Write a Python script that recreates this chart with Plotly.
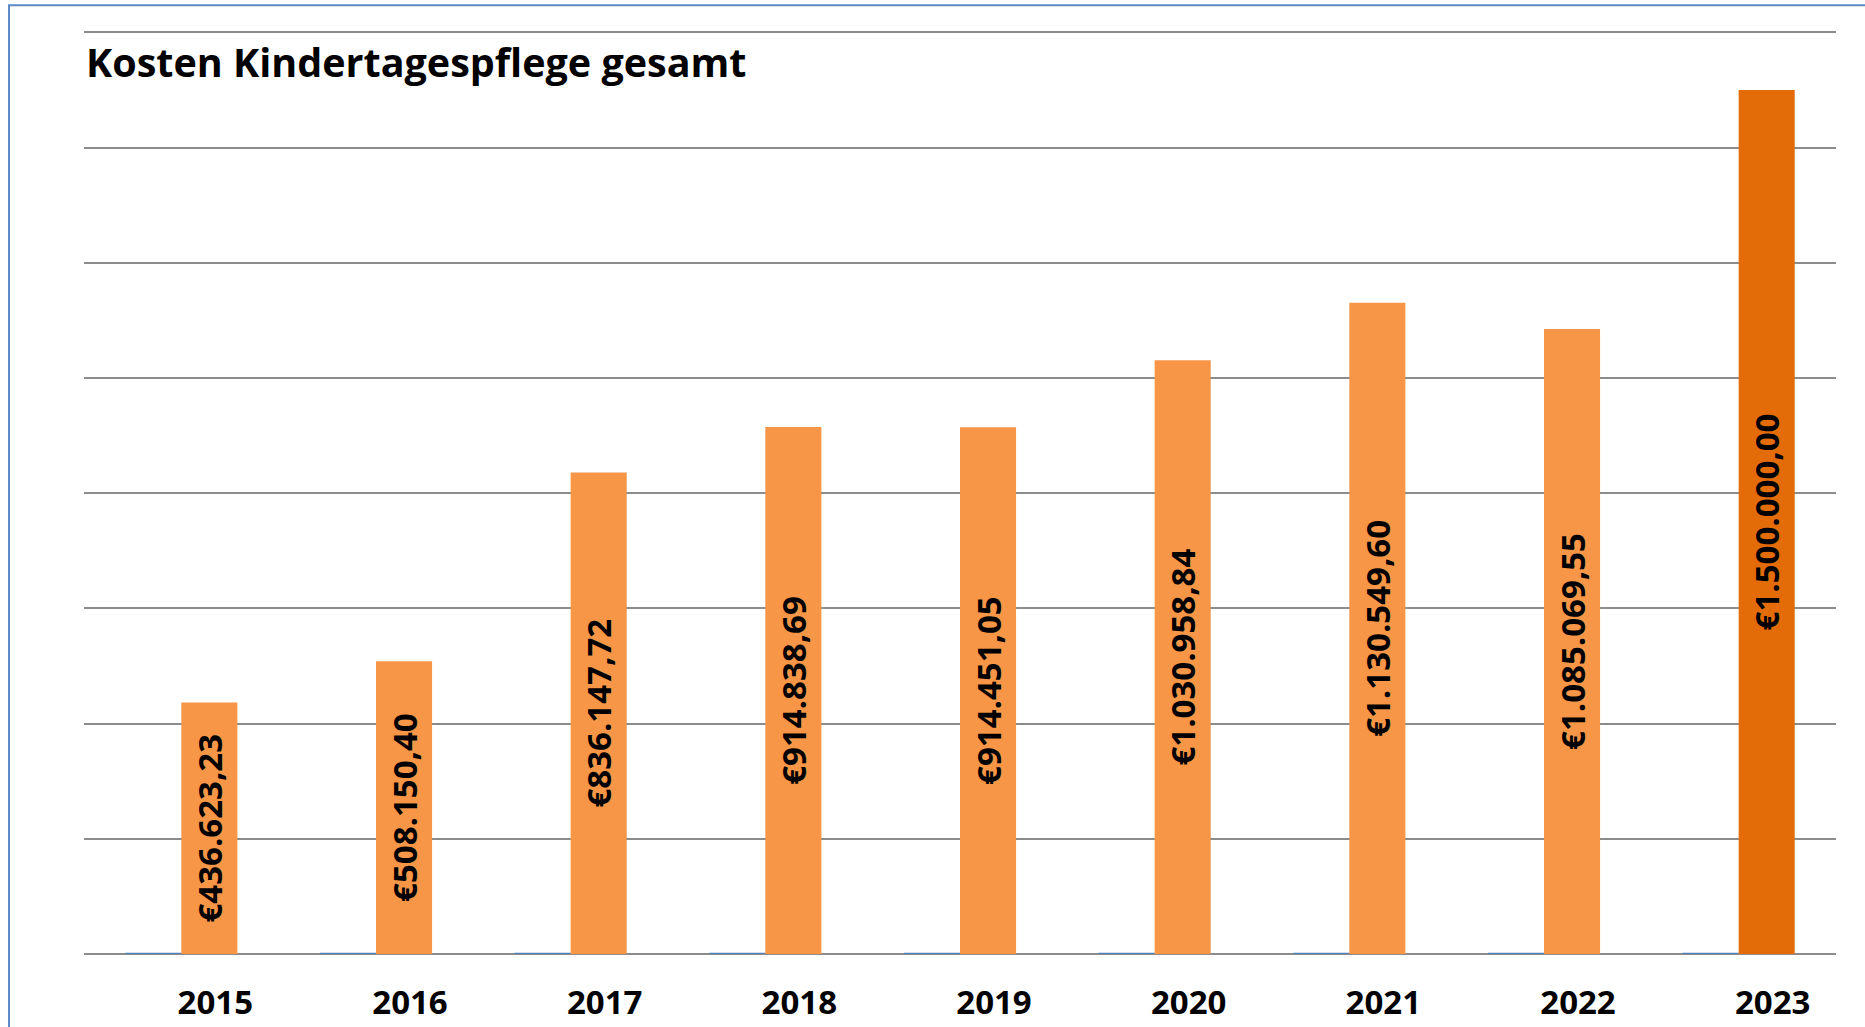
import plotly.graph_objects as go

years = ["2015", "2016", "2017", "2018", "2019", "2020", "2021", "2022", "2023"]
kosten = [436623.23, 508150.40, 836147.72, 914838.69, 914451.05,
          1030958.84, 1130549.60, 1085069.55, 1500000.00]
kosten_labels = ["€436.623,23", "€508.150,40", "€836.147,72", "€914.838,69",
                 "€914.451,05", "€1.030.958,84", "€1.130.549,60",
                 "€1.085.069,55", "€1.500.000,00"]
blue_series = [0, 0, 0, 0, 0, 0, 0, 0, 0]
bar_colors = ["#F79646"] * 8 + ["#E36C09"]

FONT = "Open Sans"

fig = go.Figure()
fig.add_trace(go.Bar(
    x=years, y=blue_series, marker=dict(color="#4F81BD", line=dict(color="#4F81BD", width=2.5)),
    showlegend=False, hoverinfo="skip"))
fig.add_trace(go.Bar(
    x=years, y=kosten, marker=dict(color=bar_colors, line=dict(width=0)),
    text=kosten_labels, textposition="inside", insidetextanchor="middle",
    textangle=-90, textfont=dict(family=FONT, size=33, color="black", weight="bold"),
    constraintext="none", showlegend=False))

fig.update_layout(
    width=1865, height=1027,
    margin=dict(l=84, r=29, t=31, b=73, autoexpand=False),
    paper_bgcolor="white", plot_bgcolor="white",
    barmode="group", bargap=0.424, bargroupgap=0,
    xaxis=dict(
        type="category", showgrid=False, zeroline=False, showline=False,
        automargin=False,
        ticks="", tickfont=dict(family=FONT, size=33, color="black", weight="bold"),
        ticklabelshift=34, ticklabelstandoff=26),
    yaxis=dict(
        range=[0, 1602500], tickvals=[0, 200000, 400000, 600000, 800000,
                                      1000000, 1200000, 1400000, 1600000],
        showticklabels=False, automargin=False,
        showgrid=True, gridcolor="#8C8C8C", gridwidth=2,
        zeroline=True, zerolinecolor="#8C8C8C", zerolinewidth=2, showline=False),
    annotations=[dict(
        text="<b>Kosten Kindertagespflege gesamt</b>", xref="paper", yref="paper",
        x=0, y=0.966, xanchor="left", yanchor="middle", showarrow=False,
        font=dict(family=FONT, size=39.5, color="black"))],
    shapes=[dict(
        type="rect", xref="paper", yref="paper",
        x0=-0.0428, x1=1.2, y0=-0.3, y1=1.028,
        line=dict(color="#5B8AC6", width=2), fillcolor="rgba(0,0,0,0)", layer="above")],
)

fig.write_html("out.html", config={"displayModeBar": False},
               post_script="document.body.style.margin='0';")
